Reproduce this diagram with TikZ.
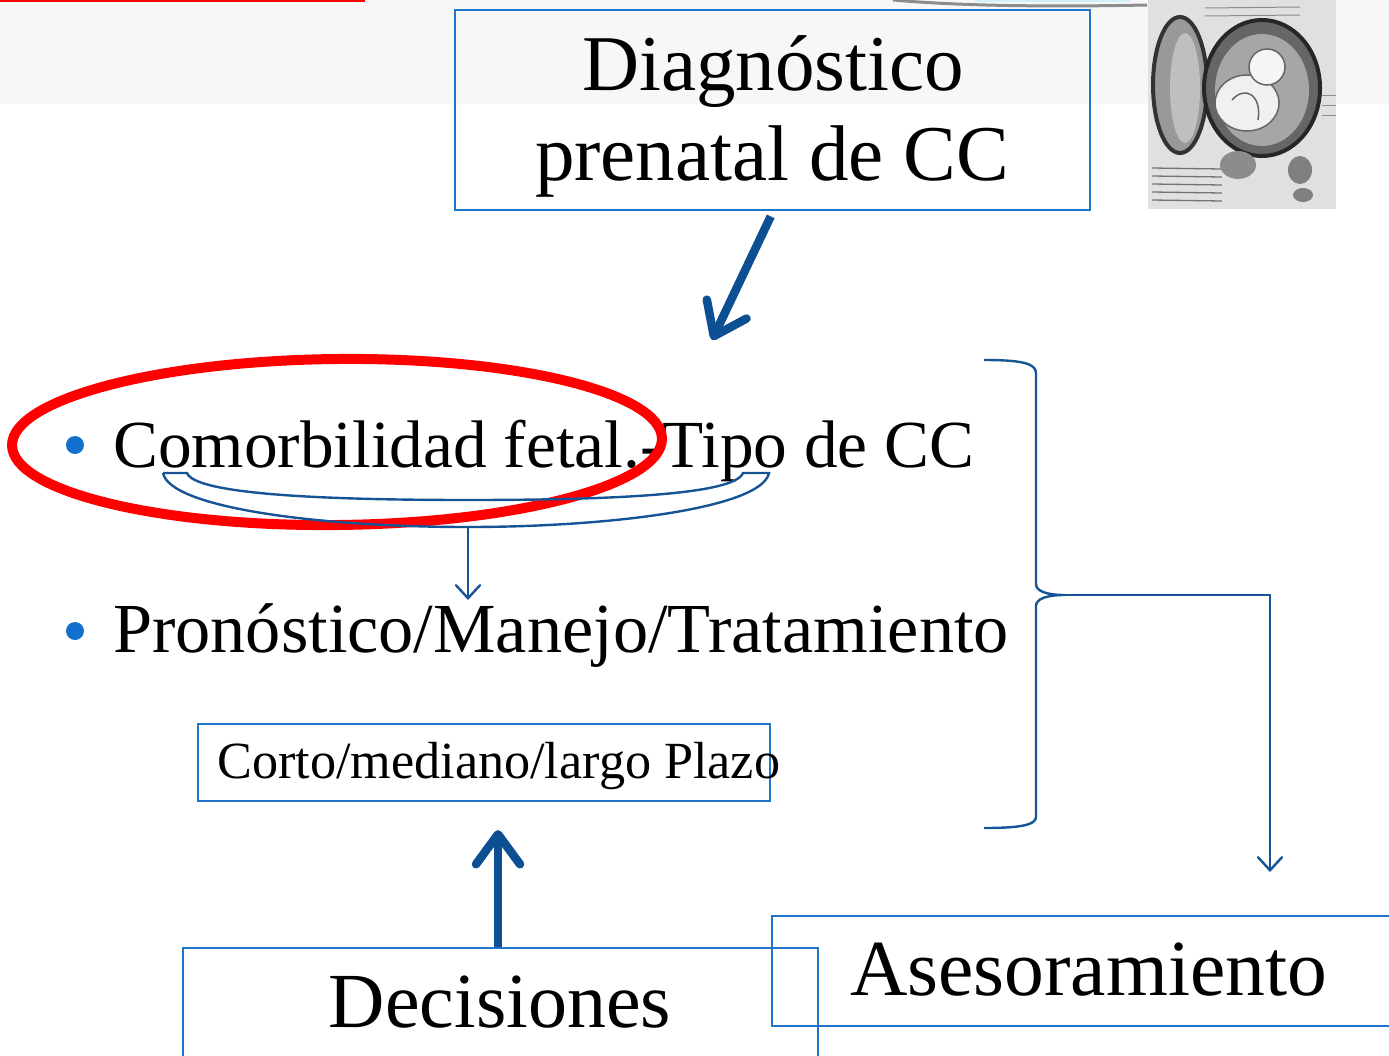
\documentclass[tikz,border=0pt]{standalone}
\usepackage{fontspec}
\setmainfont{Liberation Serif}
\usetikzlibrary{arrows.meta,calc}
\definecolor{boxblue}{RGB}{31,116,204}
\definecolor{lineblue}{RGB}{22,84,150}
\definecolor{arrowblue}{RGB}{13,79,147}
\definecolor{dotblue}{RGB}{19,113,205}
\newcommand{\fsz}[1]{\fontsize{#1}{#1}\selectfont}
\begin{document}
\begin{tikzpicture}[x=1pt,y=-1pt,
  box/.style={draw=boxblue,line width=2.4pt,inner sep=0pt,anchor=north west},
  txt/.style={inner sep=0pt,text=black},
  link/.style={draw=lineblue,line width=2.4pt},
  thinarrow/.style={link,-{Straight Barb[length=13pt,width=24pt,line cap=round]}},
  bigarrow/.style={draw=arrowblue,line width=8.5pt,
    -{Straight Barb[length=30pt,width=44pt,line cap=round,line join=round]}},
  dot/.style={circle,fill=dotblue,inner sep=0pt,minimum size=18pt}]
\useasboundingbox (0,0) rectangle (1389,1055);
\clip (0,0) rectangle (1389,1055);

% header band and trims
\fill[black!3] (0,0) rectangle (1389,104);
\draw[red,line width=2pt] (0,1) -- (365,1);
\fill[cyan!18] (975,0) rectangle (1130,2);
\draw[black!45,line width=3pt] (893,0) .. controls (960,6) and (1050,7) .. (1147,5);

% sketch of the fetus in the womb
\begin{scope}
  \fill[black!12] (1148,0) rectangle (1336,209);
  \foreach \y in {168,176,184,192,200}
    \draw[black!55,line width=1.3pt] (1152,\y) -- (1222,\y+1);
  \foreach \y in {8,16}
    \draw[black!45,line width=1pt] (1205,\y) -- (1300,\y-1);
  \foreach \y in {95,105,115}
    \draw[black!45,line width=1pt] (1322,\y) -- (1336,\y);
  \fill[black!40] (1180,85) ellipse [x radius=27pt,y radius=68pt];
  \draw[black!80,line width=4pt] (1180,85) ellipse [x radius=27pt,y radius=68pt];
  \fill[black!25] (1185,88) ellipse [x radius=15pt,y radius=55pt];
  \fill[black!60] (1262,88) ellipse [x radius=58pt,y radius=68pt];
  \draw[black!85,line width=4pt] (1262,88) ellipse [x radius=58pt,y radius=68pt];
  \fill[black!35] (1262,90) ellipse [x radius=47pt,y radius=56pt];
  \fill[black!45] (1238,165) ellipse [x radius=18pt,y radius=14pt];
  \fill[black!6] (1247,103) ellipse [x radius=32pt,y radius=28pt];
  \draw[black!60,line width=1.5pt] (1247,103) ellipse [x radius=32pt,y radius=28pt];
  \fill[black!4] (1267,67) circle (18pt);
  \draw[black!60,line width=1.5pt] (1267,67) circle (18pt);
  \draw[black!60,line width=1.5pt] (1232,100) .. controls (1245,85) and (1262,95) .. (1258,120);
  \fill[black!50] (1300,170) ellipse [x radius=12pt,y radius=14pt];
  \fill[black!50] (1303,195) ellipse [x radius=10pt,y radius=7pt];
\end{scope}

% title box
\node[box,minimum width=635pt,minimum height=200pt] (diag) at (454,9) {};
\node[txt,anchor=base,font=\fsz{79}] (diagA) at (773,90) {Diagnóstico};
\node[txt,anchor=base,font=\fsz{79}] (diagB) at (772,180) {prenatal de CC};
\coordinate (diagEnd) at (712,340);
\draw[bigarrow] ([xshift=-2pt,yshift=-5pt]diag.south) -- (diagEnd);

% bullet list
\node[dot] (dotA) at (75,445) {};
\node[txt,anchor=base west,font=\fsz{67.3}] (como) at (113,467) {Comorbilidad fetal.-Tipo de CC};
\node[dot] (dotB) at (75,631) {};
\node[txt,anchor=base west,font=\fsz{70.3}] (pron) at (113,652) {Pronóstico/Manejo/Tratamiento};

% highlight ring
\draw[red,line width=10pt,rotate around={0.6:(337,442)}] (337,442) ellipse [x radius=325pt,y radius=83pt];

% brace under the first item
\coordinate (ubL) at (163,473);
\coordinate (ubLi) at (187,473);
\coordinate (ubRi) at (743,473);
\coordinate (ubR) at (769,473);
\coordinate (ubB) at (468,527);
\coordinate (ubEnd) at (468,600);
\draw[link] (ubL) -- (ubLi) .. controls (195,494) and (320,500) .. (468,500)
  .. controls (620,500) and (735,494) .. (ubRi) -- (ubR)
  .. controls (762,508) and (610,527) .. (ubB)
  .. controls (320,527) and (170,508) .. (ubL);
\draw[thinarrow] (ubB) -- (ubEnd);

% term box
\node[box,minimum width=572pt,minimum height=77pt] (plazo) at (197,723) {};
\node[txt,anchor=base west,font=\fsz{52.2}] (plazoT) at (217,778) {Corto/mediano/largo Plazo};

% right brace and its arrow
\coordinate (rbT) at (984,360);
\coordinate (rbB) at (984,828);
\coordinate (rbC) at (1065,595);
\coordinate (rbTurn) at (1270,595);
\coordinate (rbEnd) at (1270,872);
\draw[link] (rbT) .. controls (1020,360) and (1036,363) .. (1036,373) -- (1036,584)
  .. controls (1036,591) and (1046,595) .. (rbC)
  .. controls (1046,595) and (1036,599) .. (1036,606) -- (1036,817)
  .. controls (1036,825) and (1020,828) .. (rbB);
\draw[thinarrow] (rbC) -- (rbTurn) -- (rbEnd);

% bottom boxes
\node[box,minimum width=640pt,minimum height=110pt] (ases) at (771,915) {};
\node[txt,anchor=base west,font=\fsz{79.5}] (asesT) at (850,995) {Asesoramiento};
\node[box,minimum width=635pt,minimum height=160pt] (dec) at (182,947) {};
\node[txt,anchor=base,font=\fsz{78}] (decT) at (500,1027) {Decisiones};
\coordinate (upEnd) at (498,830);
\draw[bigarrow] (dec.north -| upEnd) -- (upEnd);
\end{tikzpicture}
\end{document}
